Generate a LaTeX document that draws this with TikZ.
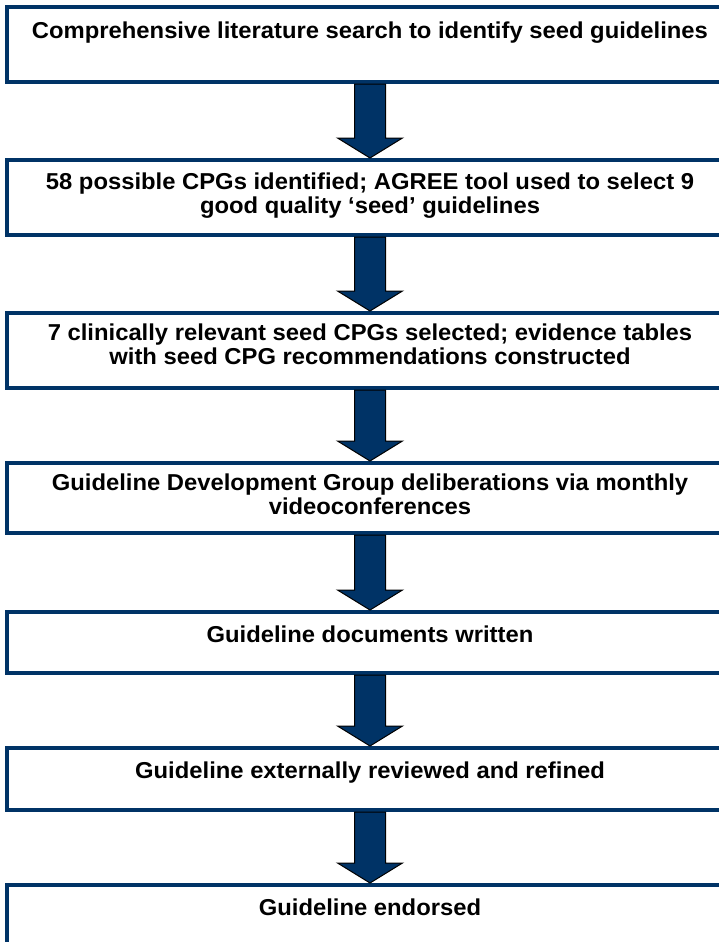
\documentclass[tikz,border=0pt]{standalone}
\usepackage{fontspec}
\setmainfont{Liberation Sans}[FakeStretch=1.035]
\usepackage{xcolor}
\usetikzlibrary{positioning,calc}
\definecolor{FlowNavy}{HTML}{003366}

% fat block arrow from the bottom of one box to the top of the next
\newcommand{\flowarrow}[2]{%
  \draw[arrowfill] let \p1=(#1.south), \p2=(#2.north) in
    (\x1-15.5pt,\y1) -- (\x1+15.5pt,\y1) -- (\x1+15.5pt,\y2+20pt)
    -- (\x1+32.5pt,\y2+20pt) -- (\x1,\y2) -- (\x1-32.5pt,\y2+20pt)
    -- (\x1-15.5pt,\y2+20pt) -- cycle;}

\begin{document}
\begin{tikzpicture}[
	x=1pt, y=-1pt,
	stagebox/.style={draw=FlowNavy, line width=4pt, minimum width=726pt, inner sep=0pt},
	stagetext/.style={font=\fontsize{23}{24}\selectfont\bfseries, align=center, inner sep=0pt},
	arrowfill/.style={draw=black, line width=1pt, fill=FlowNavy, line join=miter}
]
\useasboundingbox (0,0) rectangle (719,942);
\clip (0,0) rectangle (719,942);

\node[stagebox, minimum height=75pt] (search) at (370,44.5) {};
\node[stagebox, minimum height=75pt] (agree) at (370,197.5) {};
\node[stagebox, minimum height=75pt] (tables) at (370,350.5) {};
\node[stagebox, minimum height=70pt] (gdg) at (370,498) {};
\node[stagebox, minimum height=61pt] (written) at (370,642.5) {};
\node[stagebox, minimum height=62pt] (review) at (370,779) {};
\node[stagebox, minimum height=75pt] (endorse) at (370,922.5) {};

\node[stagetext, below=17pt of search.north] (searchtxt) {Comprehensive literature search to identify seed guidelines};
\node[stagetext, below=15pt of agree.north] (agreetxt) {58 possible CPGs identified; AGREE tool used to select 9\\good quality ‘seed’ guidelines};
\node[stagetext, below=13pt of tables.north] (tablestxt) {7 clinically relevant seed CPGs selected; evidence tables\\with seed CPG recommendations constructed};
\node[stagetext, below=13pt of gdg.north] (gdgtxt) {Guideline Development Group deliberations via monthly\\videoconferences};
\node[stagetext, below=16pt of written.north] (writtentxt) {Guideline documents written};
\node[stagetext, below=16pt of review.north] (reviewtxt) {Guideline externally reviewed and refined};
\node[stagetext, below=16pt of endorse.north] (endorsetxt) {Guideline endorsed};

\flowarrow{search}{agree}
\flowarrow{agree}{tables}
\flowarrow{tables}{gdg}
\flowarrow{gdg}{written}
\flowarrow{written}{review}
\flowarrow{review}{endorse}
\end{tikzpicture}
\end{document}
